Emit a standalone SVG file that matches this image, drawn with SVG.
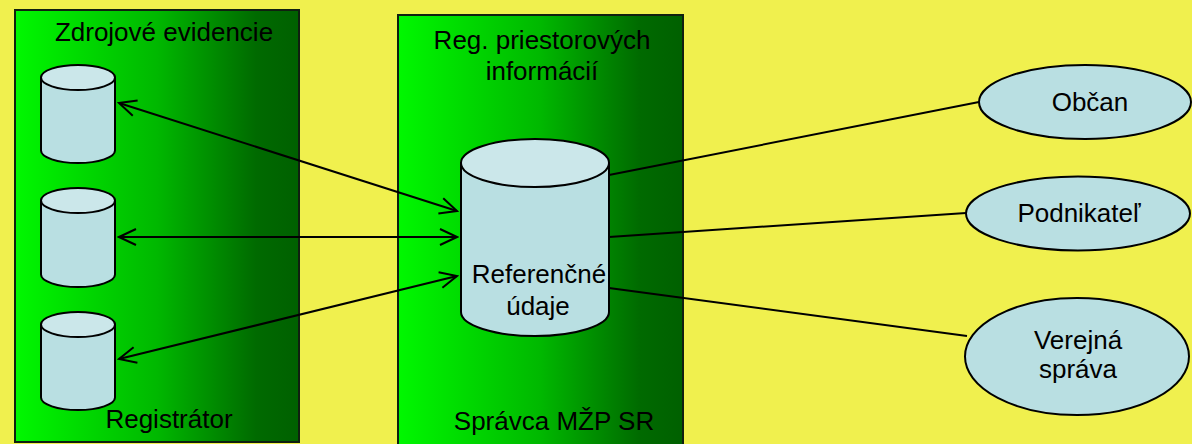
<svg xmlns="http://www.w3.org/2000/svg" width="1192" height="444" viewBox="0 0 1192 444">
<defs>
<linearGradient id="panelGrad" x1="0" y1="0" x2="1" y2="0">
<stop offset="0" stop-color="#00F800"/>
<stop offset="0.5" stop-color="#00B800"/>
<stop offset="0.85" stop-color="#006A00"/>
<stop offset="1" stop-color="#006000"/>
</linearGradient>
<marker id="arr" viewBox="-20 -10 22 20" refX="0" refY="0" markerWidth="22" markerHeight="20" markerUnits="userSpaceOnUse" orient="auto-start-reverse">
<path d="M-17,-8 L0,0 L-17,8" fill="none" stroke="#000" stroke-width="2"/>
</marker>
</defs>
<style>
.panel{fill:url(#panelGrad);stroke:#102010;stroke-width:2}
.cyl{fill:#B9DFE2;stroke:#000;stroke-width:2}
.cap{fill:#CBE7EA;stroke:#000;stroke-width:2}
.ell{fill:#B9DFE2;stroke:#000;stroke-width:2}
.t{font-family:"Liberation Sans",Arial,sans-serif;font-size:26px;fill:#000;text-anchor:middle}
.conn{stroke:#000;stroke-width:2;fill:none}
</style>
<rect x="0" y="0" width="1192" height="444" fill="#F0F04E"/>
<g id="panel-zdrojove">
<rect class="panel" x="15" y="10" width="284" height="432"/>
<text class="t" x="164" y="41">Zdrojové evidencie</text>
<text class="t" x="169" y="428">Registrátor</text>
</g>
<g id="panel-reg">
<rect class="panel" x="398" y="15" width="285" height="440"/>
<text class="t" x="542" y="49">Reg. priestorových</text>
<text class="t" x="542" y="80">informácií</text>
<text class="t" x="554" y="430">Správca MŽP SR</text>
</g>
<g id="db1">
<path class="cyl" d="M41,77.5 L41,150.5 A37,12.5 0 0 0 115,150.5 L115,77.5 Z"/>
<ellipse class="cap" cx="78" cy="77.5" rx="37" ry="12.5"/>
</g>
<g id="db2">
<path class="cyl" d="M41,200.5 L41,274.5 A37,12.5 0 0 0 115,274.5 L115,200.5 Z"/>
<ellipse class="cap" cx="78" cy="200.5" rx="37" ry="12.5"/>
</g>
<g id="db3">
<path class="cyl" d="M41,324.5 L41,397.5 A37,12.5 0 0 0 115,397.5 L115,324.5 Z"/>
<ellipse class="cap" cx="78" cy="324.5" rx="37" ry="12.5"/>
</g>
<g id="db-ref">
<path class="cyl" d="M461,163 L461,312 A74,24 0 0 0 609,312 L609,163 Z"/>
<ellipse class="cap" cx="535" cy="163" rx="74" ry="24"/>
<text class="t" x="539" y="283">Referenčné</text>
<text class="t" x="538" y="315">údaje</text>
</g>
<g id="obcan">
<ellipse class="ell" cx="1085" cy="102" rx="106" ry="37"/>
<text class="t" x="1090" y="111">Občan</text>
</g>
<g id="podnikatel">
<ellipse class="ell" cx="1078" cy="213.5" rx="112" ry="37"/>
<text class="t" x="1079" y="222">Podnikateľ</text>
</g>
<g id="verejna">
<ellipse class="ell" cx="1077" cy="356.5" rx="112" ry="58.5"/>
<text class="t" x="1078" y="349">Verejná</text>
<text class="t" x="1078" y="378">správa</text>
</g>
<g id="connectors">
<line class="conn" x1="119" y1="103" x2="457" y2="211" marker-start="url(#arr)" marker-end="url(#arr)"/>
<line class="conn" x1="119" y1="237" x2="457" y2="237" marker-start="url(#arr)" marker-end="url(#arr)"/>
<line class="conn" x1="119" y1="359" x2="457" y2="276" marker-start="url(#arr)" marker-end="url(#arr)"/>
<line class="conn" x1="609" y1="175" x2="979" y2="102"/>
<line class="conn" x1="609" y1="237" x2="966" y2="213"/>
<line class="conn" x1="609" y1="288" x2="967" y2="336"/>
</g>
</svg>
